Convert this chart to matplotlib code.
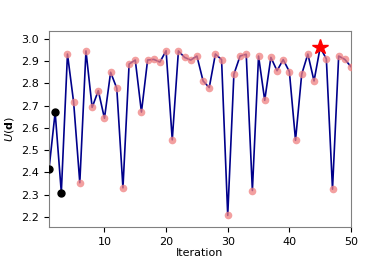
import matplotlib
matplotlib.use("Agg")
import matplotlib.pyplot as plt
import numpy as np

iterations = list(range(1, 51))
utility = [2.414, 2.670, 2.309, 2.932, 2.715, 2.353, 2.946, 2.692, 2.767, 2.643,
           2.850, 2.778, 2.330, 2.887, 2.905, 2.671, 2.905, 2.908, 2.896, 2.947,
           2.546, 2.946, 2.917, 2.905, 2.923, 2.811, 2.781, 2.932, 2.907, 2.206,
           2.841, 2.923, 2.931, 2.318, 2.923, 2.724, 2.917, 2.857, 2.907, 2.853,
           2.544, 2.841, 2.932, 2.811, 2.962, 2.910, 2.324, 2.923, 2.908, 2.875]
n_initial = 3

it = np.array(iterations)
u = np.array(utility)
best = int(np.argmax(u))

fig = plt.figure(figsize=(3.9, 2.6), dpi=100)
ax = fig.add_axes([0.1256, 0.127, 0.7744, 0.754])
ax.plot(it, u, color="darkblue", lw=1.2, zorder=2)
mask = np.ones(len(u), bool)
mask[:n_initial] = False
mask[best] = False
ax.plot(it[mask], u[mask], "o", color="lightcoral", alpha=0.75, ms=5.5, mec="none", zorder=3)
ax.plot(it[:n_initial], u[:n_initial], "o", color="black", ms=5, zorder=4)
ax.plot(it[best], u[best], "*", color="red", ms=11.5, zorder=5)

ax.set_xlim(1, 50)
ax.set_ylim(2.154, 3.036)
ax.set_xticks([10, 20, 30, 40, 50])
ax.set_yticks(np.round(np.arange(2.2, 3.01, 0.1), 1))
ax.tick_params(labelsize=8)
ax.set_xlabel("Iteration", fontsize=8, labelpad=1)
ax.set_ylabel(r"$U(\mathbf{d})$", fontsize=8)
for s in ax.spines.values():
    s.set_color("#808080")
fig.savefig("out.png", dpi=100)
